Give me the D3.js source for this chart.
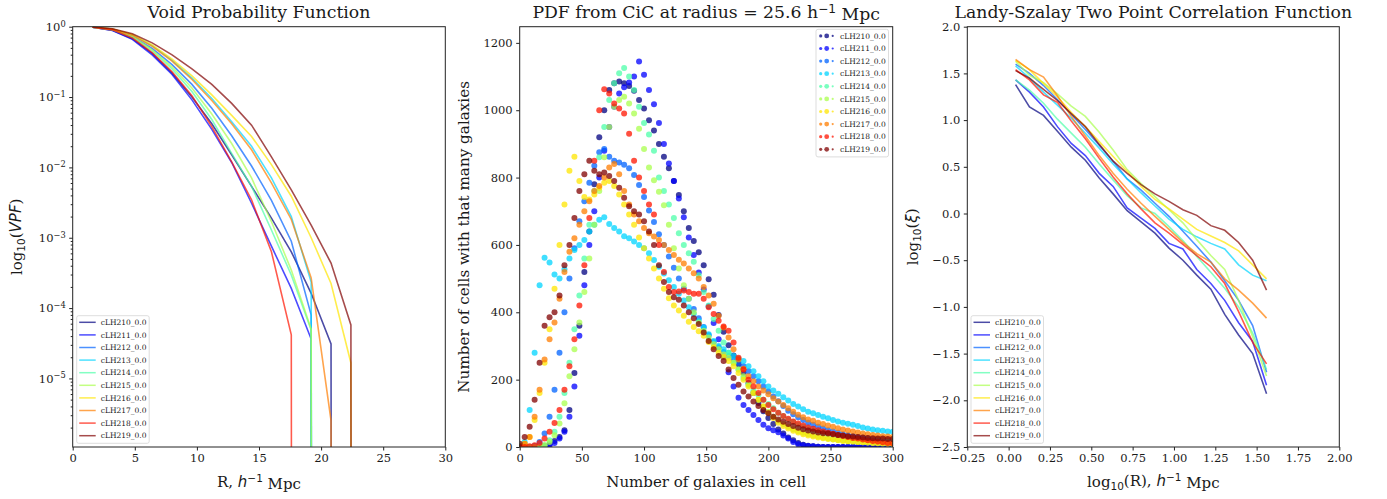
<!DOCTYPE html>
<html>
<head>
<meta charset="utf-8">
<script src="https://cdn.jsdelivr.net/npm/d3@7"></script>
<style>
    body { margin: 0; background: #fff; }
    svg text { font-family: "DejaVu Serif", serif; fill: #1a1a1a; }
    .tick line { stroke: #222; }
</style>
</head>
<body>
<div class="container"></div>
<script>
const names = ['cLH210_0.0', 'cLH211_0.0', 'cLH212_0.0', 'cLH213_0.0', 'cLH214_0.0',
    'cLH215_0.0', 'cLH216_0.0', 'cLH217_0.0', 'cLH218_0.0', 'cLH219_0.0'];

// void probability function, log10(VPF) at each radius (null = no empty cells)
const vpfR = [1.6, 3.2, 4.8, 6.4, 8.0, 9.6, 11.2, 12.8, 14.4, 16.0, 17.6, 19.2, 20.8, 22.4, 24.0];
const vpf210 = [-0.007, -0.05, -0.17, -0.38, -0.66, -1.00, -1.38, -1.82, -2.27, -2.72, -3.20, -3.79, -4.51, null, null];
const vpf211 = [-0.008, -0.055, -0.18, -0.40, -0.68, -1.04, -1.46, -1.93, -2.51, -3.12, -3.72, -4.44, null, null, null];
const vpf212 = [-0.006, -0.04, -0.14, -0.31, -0.54, -0.82, -1.16, -1.55, -1.98, -2.47, -3.05, -4.10, null, null, null];
const vpf213 = [-0.005, -0.035, -0.12, -0.27, -0.48, -0.73, -1.02, -1.35, -1.70, -2.15, -2.70, -3.63, null, null, null];
const vpf214 = [-0.006, -0.045, -0.15, -0.34, -0.60, -0.92, -1.32, -1.80, -2.27, -2.89, -3.53, -4.31, null, null, null];
const vpf215 = [-0.006, -0.04, -0.14, -0.33, -0.57, -0.87, -1.24, -1.66, -2.15, -2.77, -3.46, -4.30, null, null, null];
const vpf216 = [-0.005, -0.033, -0.11, -0.26, -0.46, -0.70, -0.97, -1.26, -1.56, -1.96, -2.41, -3.00, -3.65, -4.78, null];
const vpf217 = [-0.005, -0.035, -0.12, -0.28, -0.49, -0.75, -1.05, -1.38, -1.75, -2.22, -2.74, -3.57, -5.60, null, null];
const vpf218 = [-0.007, -0.045, -0.16, -0.37, -0.64, -0.98, -1.42, -1.92, -2.46, -3.20, -4.38, null, null, null, null];
const vpf219 = [-0.005, -0.03, -0.10, -0.23, -0.40, -0.60, -0.82, -1.09, -1.40, -1.85, -2.32, -2.82, -3.36, -4.24, null];

// counts in cells, number of cells for every 4th galaxy count 0..300
const cicN = d3.range(0, 301, 4);
const cic210 = [0, 0, 0, 0, 1, 3, 8, 18, 30, 50, 110, 220, 360, 520, 640, 780, 920, 1000, 1060, 1080, 1085, 1080, 1072, 1058, 1030, 1005, 970, 940, 900, 862, 828, 790, 748, 700, 650, 612, 578, 540, 498, 452, 392, 342, 302, 272, 246, 220, 190, 160, 131, 106, 86, 68, 52, 40, 28, 20, 12, 7, 4, 2, 1, 0, 0, 0, 0, 0, 0, 0, 0, 0, 0, 0, 0, 0, 0, 0];
const cic211 = [0, 0, 0, 0, 0, 2, 5, 12, 25, 45, 90, 180, 330, 480, 600, 700, 800, 880, 950, 1010, 1050, 1068, 1082, 1100, 1145, 1105, 1060, 1018, 962, 900, 842, 790, 738, 682, 622, 570, 518, 468, 418, 368, 320, 268, 222, 180, 146, 125, 110, 95, 80, 66, 56, 50, 44, 34, 25, 15, 8, 5, 3, 2, 1, 0, 0, 0, 0, 0, 0, 0, 0, 0, 0, 0, 0, 0, 0, 0];
const cic212 = [0, 0, 0, 3, 15, 40, 90, 170, 280, 400, 500, 590, 670, 730, 785, 835, 875, 885, 862, 850, 845, 838, 828, 808, 778, 742, 702, 668, 632, 600, 566, 532, 500, 470, 440, 410, 382, 356, 332, 312, 296, 282, 270, 260, 250, 240, 225, 210, 195, 180, 165, 150, 136, 122, 108, 97, 88, 80, 72, 66, 60, 55, 50, 46, 42, 38, 35, 32, 30, 28, 26, 24, 22, 20, 19, 18];
const cic213 = [2, 15, 110, 280, 480, 562, 548, 512, 500, 528, 560, 585, 600, 615, 640, 660, 675, 682, 662, 650, 640, 626, 620, 610, 600, 590, 575, 555, 535, 515, 495, 475, 455, 435, 415, 395, 375, 355, 335, 315, 300, 290, 280, 270, 262, 255, 240, 225, 210, 195, 180, 168, 158, 148, 138, 128, 120, 112, 105, 100, 95, 90, 85, 80, 76, 72, 69, 66, 62, 58, 55, 52, 50, 48, 46, 45];
const cic214 = [0, 0, 0, 0, 0, 5, 20, 45, 90, 160, 250, 350, 450, 560, 660, 760, 860, 950, 1030, 1080, 1110, 1125, 1100, 1060, 1010, 962, 928, 880, 800, 760, 720, 680, 635, 600, 575, 550, 510, 460, 420, 380, 345, 310, 280, 250, 230, 205, 185, 168, 155, 140, 128, 115, 102, 92, 82, 74, 66, 60, 55, 50, 46, 42, 39, 36, 33, 30, 28, 26, 24, 22, 20, 19, 18, 17, 16, 15];
const cic215 = [0, 0, 0, 0, 0, 5, 15, 35, 70, 130, 210, 290, 370, 460, 560, 660, 760, 860, 950, 1010, 1030, 1040, 1020, 990, 945, 885, 830, 792, 758, 718, 660, 590, 530, 480, 440, 400, 370, 345, 325, 305, 290, 275, 265, 250, 230, 210, 185, 160, 140, 120, 105, 90, 78, 68, 60, 53, 47, 42, 38, 34, 31, 28, 25, 23, 21, 19, 17, 16, 15, 14, 13, 12, 11, 10, 10, 9];
const cic216 = [3, 10, 30, 80, 160, 250, 350, 470, 600, 720, 820, 862, 790, 742, 735, 750, 770, 785, 790, 775, 750, 720, 690, 660, 622, 590, 560, 530, 500, 470, 442, 420, 405, 390, 372, 356, 344, 330, 312, 296, 280, 268, 255, 240, 220, 200, 180, 160, 140, 120, 102, 86, 72, 62, 55, 48, 43, 38, 34, 31, 28, 26, 24, 22, 20, 18, 17, 16, 15, 14, 13, 12, 11, 11, 10, 10];
const cic217 = [2, 10, 30, 90, 170, 260, 320, 370, 440, 520, 580, 620, 660, 700, 730, 760, 775, 800, 830, 840, 810, 760, 720, 690, 670, 650, 635, 625, 615, 600, 585, 570, 556, 545, 530, 516, 500, 475, 450, 425, 390, 355, 325, 290, 260, 232, 210, 195, 180, 168, 157, 145, 135, 125, 115, 105, 96, 88, 82, 78, 72, 68, 64, 60, 56, 52, 49, 46, 43, 40, 38, 36, 34, 32, 31, 30];
const cic218 = [0, 0, 2, 5, 12, 25, 45, 71, 110, 170, 240, 320, 420, 540, 680, 850, 1000, 1062, 1050, 1020, 1005, 990, 930, 850, 800, 760, 720, 690, 600, 520, 475, 460, 462, 465, 460, 455, 455, 440, 415, 395, 375, 358, 345, 310, 265, 230, 200, 180, 160, 140, 125, 112, 102, 92, 84, 76, 70, 64, 58, 54, 50, 46, 42, 39, 36, 33, 30, 27, 25, 22, 20, 18, 16, 14, 12, 11];
const cic219 = [10, 30, 60, 140, 250, 360, 385, 400, 450, 540, 600, 680, 760, 810, 850, 820, 810, 815, 805, 790, 770, 740, 715, 700, 690, 670, 640, 600, 540, 490, 460, 445, 437, 420, 400, 382, 365, 340, 315, 290, 270, 255, 230, 205, 185, 165, 150, 135, 122, 110, 100, 90, 82, 75, 68, 62, 57, 53, 49, 46, 43, 41, 40, 38, 36, 34, 32, 31, 30, 28, 27, 26, 25, 25, 24, 24];

// Landy-Szalay correlation, log10(xi) against log10(R)
const logR = [0.042, 0.126, 0.211, 0.295, 0.379, 0.464, 0.548, 0.632, 0.717, 0.801, 0.885, 0.970, 1.054, 1.138, 1.223, 1.307, 1.391, 1.476, 1.560];
const xi210 = [1.38, 1.14, 1.05, 0.88, 0.71, 0.57, 0.38, 0.21, 0.03, -0.09, -0.21, -0.37, -0.50, -0.66, -0.81, -1.08, -1.30, -1.50, -1.93];
const xi211 = [1.43, 1.30, 1.14, 0.93, 0.75, 0.62, 0.43, 0.29, 0.06, -0.05, -0.16, -0.32, -0.38, -0.60, -0.75, -0.93, -1.17, -1.37, -1.84];
const xi212 = [1.60, 1.50, 1.37, 1.22, 1.06, 0.90, 0.73, 0.56, 0.37, 0.25, 0.11, -0.03, -0.19, -0.35, -0.52, -0.72, -0.93, -1.20, -1.70];
const xi213 = [1.58, 1.45, 1.30, 1.16, 1.02, 0.86, 0.70, 0.53, 0.37, 0.22, 0.08, -0.06, -0.17, -0.25, -0.32, -0.38, -0.55, -0.66, -0.72];
const xi214 = [1.43, 1.32, 1.18, 1.01, 0.86, 0.71, 0.53, 0.36, 0.19, 0.06, 0.00, -0.14, -0.29, -0.46, -0.63, -0.80, -1.00, -1.28, -1.67];
const xi215 = [1.63, 1.48, 1.40, 1.28, 1.15, 1.04, 0.87, 0.68, 0.47, 0.32, 0.18, 0.04, -0.10, -0.28, -0.45, -0.60, -0.93, -1.32, -1.74];
const xi216 = [1.64, 1.54, 1.39, 1.25, 1.08, 0.93, 0.77, 0.61, 0.45, 0.29, 0.15, 0.05, -0.06, -0.17, -0.24, -0.31, -0.40, -0.55, -0.70];
const xi217 = [1.65, 1.54, 1.46, 1.26, 1.04, 0.83, 0.62, 0.43, 0.26, 0.11, -0.03, -0.17, -0.31, -0.43, -0.52, -0.70, -0.82, -0.96, -1.12];
const xi218 = [1.54, 1.43, 1.27, 1.19, 0.99, 0.80, 0.59, 0.39, 0.21, 0.05, -0.10, -0.21, -0.33, -0.45, -0.57, -0.75, -1.05, -1.38, -1.61];
const xi219 = [1.53, 1.45, 1.33, 1.21, 1.07, 0.93, 0.74, 0.56, 0.43, 0.31, 0.21, 0.13, 0.04, -0.02, -0.13, -0.18, -0.31, -0.50, -0.82];

const vpfSeries = [vpf210, vpf211, vpf212, vpf213, vpf214, vpf215, vpf216, vpf217, vpf218, vpf219];
const cicSeries = [cic210, cic211, cic212, cic213, cic214, cic215, cic216, cic217, cic218, cic219];
const xiSeries = [xi210, xi211, xi212, xi213, xi214, xi215, xi216, xi217, xi218, xi219];

// matplotlib 'jet' colormap
function jet(t) {
    const seg = pts => {
        for (let i = 1; i < pts.length; i++) {
            if (t <= pts[i][0]) {
                const [x0, y0] = pts[i - 1], [x1, y1] = pts[i];
                return y0 + (y1 - y0) * (t - x0) / (x1 - x0);
            }
        }
        return pts[pts.length - 1][1];
    };
    const r = seg([[0, 0], [0.35, 0], [0.66, 1], [0.89, 1], [1, 0.5]]);
    const g = seg([[0, 0], [0.125, 0], [0.375, 1], [0.64, 1], [0.91, 0], [1, 0]]);
    const b = seg([[0, 0.5], [0.11, 1], [0.34, 1], [0.65, 0], [1, 0]]);
    return d3.rgb(r * 255, g * 255, b * 255).formatHex();
}
const color = d3.scaleOrdinal(names, names.map((d, i) => jet(i / (names.length - 1))));

const plotTop = 26.7, plotBottom = 447;

const svg = d3.select('.container')
    .append('svg')
    .attr('width', 1387)
    .attr('height', 499);

function panel(id, x0, x1) {
    const g = svg.append('g').attr('id', id);
    g.append('clipPath')
        .attr('id', id + '-clip')
        .append('rect')
        .attr('x', x0)
        .attr('y', plotTop)
        .attr('width', x1 - x0)
        .attr('height', plotBottom - plotTop);
    const plot = g.append('g').attr('clip-path', `url(#${id}-clip)`);
    return {g, plot};
}

function styleAxis(sel) {
    sel.select('.domain').remove();
    sel.selectAll('.tick text')
        .attr('font-size', 11.5)
        .attr('font-family', 'DejaVu Serif')
        .attr('fill', '#1a1a1a');
}

function border(g, x0, x1) {
    g.append('rect')
        .attr('x', x0)
        .attr('y', plotTop)
        .attr('width', x1 - x0)
        .attr('height', plotBottom - plotTop)
        .attr('fill', 'none')
        .attr('stroke', '#222')
        .attr('stroke-width', 1);
}

function title(g, cx, build) {
    const t = g.append('text')
        .attr('x', cx)
        .attr('y', 18)
        .attr('text-anchor', 'middle')
        .attr('font-size', 17.3);
    build(t);
}

function legend(g, x, y, type) {
    const box = g.append('g').attr('class', 'legend');
    box.append('rect')
        .attr('x', x)
        .attr('y', y)
        .attr('width', 72.5)
        .attr('height', 127.6)
        .attr('rx', 2)
        .attr('fill', '#fff')
        .attr('fill-opacity', 0.8)
        .attr('stroke', '#d4d4d4')
        .attr('stroke-width', 0.8);

    const item = box.selectAll('.legend-item')
        .data(names)
        .enter()
        .append('g')
        .attr('class', 'legend-item')
        .attr('transform', (d, i) => `translate(${x}, ${y + 6.6 + i * 12.6})`);

    if (type === 'line') {
        item.append('line')
            .attr('x1', 2.5)
            .attr('x2', 19)
            .attr('stroke', d => color(d))
            .attr('stroke-opacity', 0.7)
            .attr('stroke-width', 1.5);
    } else {
        [[4.7, 1.6], [10.7, 2.4], [16.7, 1.1]].forEach(([cx, r]) => {
            item.append('circle')
                .attr('cx', cx)
                .attr('r', r)
                .attr('fill', d => color(d))
                .attr('fill-opacity', 0.75);
        });
    }

    item.append('text')
        .attr('x', 24)
        .attr('dy', '0.35em')
        .attr('font-size', 7.5)
        .attr('fill', '#333')
        .text(d => d);
}

// ---------- Void probability function ----------
{
    const x0 = 72.7, x1 = 445.3;
    const {g, plot} = panel('vpf', x0, x1);
    const x = d3.scaleLinear([0, 30], [x0, x1]);
    const y = d3.scaleLog([1.06e-6, 1], [plotBottom, plotTop]);

    const line = d3.line()
        .x(d => x(d[0]))
        .y(d => y(d[1] > 0 ? d[1] : 1e-300));

    vpfSeries.forEach((s, i) => {
        const pts = vpfR.map((r, k) => [r, s[k] === null ? 0 : Math.pow(10, s[k])]);
        plot.append('path')
            .datum(pts)
            .attr('d', line)
            .attr('fill', 'none')
            .attr('stroke', color(names[i]))
            .attr('stroke-opacity', 0.7)
            .attr('stroke-width', 1.6);
    });

    g.append('g')
        .attr('transform', `translate(0, ${plotBottom})`)
        .call(d3.axisBottom(x).tickValues(d3.range(0, 31, 5)).tickSize(3.5).tickPadding(3.5))
        .call(styleAxis);

    const minors = [];
    for (let e = -6; e < 0; e++) {
        for (let m = 2; m < 10; m++) {
            const v = m * Math.pow(10, e);
            if (v > 1.06e-6 && v < 1) minors.push(v);
        }
    }
    g.append('g')
        .attr('transform', `translate(${x0}, 0)`)
        .call(d3.axisLeft(y).tickValues(minors).tickSize(2).tickFormat(''))
        .call(styleAxis);

    const exps = [-5, -4, -3, -2, -1, 0];
    g.append('g')
        .attr('transform', `translate(${x0}, 0)`)
        .call(d3.axisLeft(y).tickValues(exps.map(e => Math.pow(10, e))).tickSize(3.5).tickPadding(3.5))
        .call(styleAxis)
        .selectAll('.tick text')
        .each(function (d, i) {
            const t = d3.select(this).text('10');
            t.append('tspan')
                .attr('dy', '-0.5em')
                .attr('font-size', '0.72em')
                .text(String(exps[i]).replace('-', '\u2212'));
        });

    border(g, x0, x1);

    title(g, (x0 + x1) / 2, t => t.text('Void Probability Function'));

    const xl = g.append('text')
        .attr('x', (x0 + x1) / 2)
        .attr('y', 487)
        .attr('text-anchor', 'middle')
        .attr('font-size', 15);
    xl.append('tspan').text('R, ');
    xl.append('tspan').attr('font-family', 'DejaVu Sans').attr('font-style', 'italic').text('h');
    xl.append('tspan').attr('dy', '-0.45em').attr('font-size', '0.7em').attr('font-family', 'DejaVu Sans').text('\u22121');
    xl.append('tspan').attr('dy', '0.45em').text(' Mpc');

    const yl = g.append('text')
        .attr('transform', `translate(22, ${(plotTop + plotBottom) / 2}) rotate(-90)`)
        .attr('text-anchor', 'middle')
        .attr('font-size', 15);
    yl.append('tspan').text('log');
    yl.append('tspan').attr('dy', '0.3em').attr('font-size', '0.7em').attr('font-family', 'DejaVu Sans').text('10');
    yl.append('tspan').attr('dy', '-0.3em').text('(');
    yl.append('tspan').attr('font-family', 'DejaVu Sans').attr('font-style', 'italic').text('VPF');
    yl.append('tspan').text(')');

    legend(g, 76.7, 315.7, 'line');
}

// ---------- Counts in cells PDF ----------
{
    const x0 = 519.7, x1 = 892.7;
    const {g, plot} = panel('cic', x0, x1);
    const x = d3.scaleLinear([0, 300], [x0, x1]);
    const y = d3.scaleLinear([0, 1248], [plotBottom, plotTop]);

    cicSeries.forEach((s, i) => {
        plot.append('g')
            .selectAll('circle')
            .data(s)
            .enter()
            .append('circle')
            .attr('cx', (d, k) => x(cicN[k]))
            .attr('cy', d => y(d))
            .attr('r', 3)
            .attr('fill', color(names[i]))
            .attr('fill-opacity', 0.75);
    });

    g.append('g')
        .attr('transform', `translate(0, ${plotBottom})`)
        .call(d3.axisBottom(x).tickValues(d3.range(0, 301, 50)).tickSize(3.5).tickPadding(3.5))
        .call(styleAxis);
    g.append('g')
        .attr('transform', `translate(${x0}, 0)`)
        .call(d3.axisLeft(y).tickValues(d3.range(0, 1201, 200)).tickFormat(d3.format('d')).tickSize(3.5).tickPadding(3.5))
        .call(styleAxis);

    border(g, x0, x1);

    title(g, (x0 + x1) / 2, t => {
        t.append('tspan').text('PDF from CiC at radius = 25.6 h');
        t.append('tspan').attr('dy', '-0.45em').attr('font-size', '0.7em').attr('font-family', 'DejaVu Sans').text('\u22121');
        t.append('tspan').attr('dy', '0.45em').text(' Mpc');
    });

    g.append('text')
        .attr('x', (x0 + x1) / 2)
        .attr('y', 487)
        .attr('text-anchor', 'middle')
        .attr('font-size', 15)
        .text('Number of galaxies in cell');

    g.append('text')
        .attr('transform', `translate(469, ${(plotTop + plotBottom) / 2}) rotate(-90)`)
        .attr('text-anchor', 'middle')
        .attr('font-size', 15.2)
        .text('Number of cells with that many galaxies');

    legend(g, 816, 29.3, 'dot');
}

// ---------- Landy-Szalay correlation ----------
{
    const x0 = 967.3, x1 = 1339.3;
    const {g, plot} = panel('xi', x0, x1);
    const x = d3.scaleLinear([-0.25, 2], [x0, x1]);
    const y = d3.scaleLinear([-2.5, 2], [plotBottom, plotTop]);

    const line = d3.line()
        .x(d => x(d[0]))
        .y(d => y(d[1]));

    xiSeries.forEach((s, i) => {
        plot.append('path')
            .datum(logR.map((r, k) => [r, s[k]]))
            .attr('d', line)
            .attr('fill', 'none')
            .attr('stroke', color(names[i]))
            .attr('stroke-opacity', 0.7)
            .attr('stroke-width', 1.6);
    });

    g.append('g')
        .attr('transform', `translate(0, ${plotBottom})`)
        .call(d3.axisBottom(x).tickValues(d3.range(-0.25, 2.01, 0.25)).tickFormat(d3.format('.2f')).tickSize(3.5).tickPadding(3.5))
        .call(styleAxis);
    g.append('g')
        .attr('transform', `translate(${x0}, 0)`)
        .call(d3.axisLeft(y).tickValues(d3.range(-2.5, 2.01, 0.5)).tickFormat(d3.format('.1f')).tickSize(3.5).tickPadding(3.5))
        .call(styleAxis);

    border(g, x0, x1);

    title(g, (x0 + x1) / 2, t => t.text('Landy-Szalay Two Point Correlation Function'));

    const xl = g.append('text')
        .attr('x', (x0 + x1) / 2)
        .attr('y', 487)
        .attr('text-anchor', 'middle')
        .attr('font-size', 15);
    xl.append('tspan').text('log');
    xl.append('tspan').attr('dy', '0.3em').attr('font-size', '0.7em').attr('font-family', 'DejaVu Sans').text('10');
    xl.append('tspan').attr('dy', '-0.3em').text('(R), ');
    xl.append('tspan').attr('font-family', 'DejaVu Sans').attr('font-style', 'italic').text('h');
    xl.append('tspan').attr('dy', '-0.45em').attr('font-size', '0.7em').attr('font-family', 'DejaVu Sans').text('\u22121');
    xl.append('tspan').attr('dy', '0.45em').text(' Mpc');

    const yl = g.append('text')
        .attr('transform', `translate(918, ${(plotTop + plotBottom) / 2}) rotate(-90)`)
        .attr('text-anchor', 'middle')
        .attr('font-size', 15);
    yl.append('tspan').text('log');
    yl.append('tspan').attr('dy', '0.3em').attr('font-size', '0.7em').attr('font-family', 'DejaVu Sans').text('10');
    yl.append('tspan').attr('dy', '-0.3em').text('(');
    yl.append('tspan').attr('font-family', 'DejaVu Sans').attr('font-style', 'italic').text('\u03be');
    yl.append('tspan').text(')');

    legend(g, 971, 315.7, 'line');
}
</script>
</body>
</html>
